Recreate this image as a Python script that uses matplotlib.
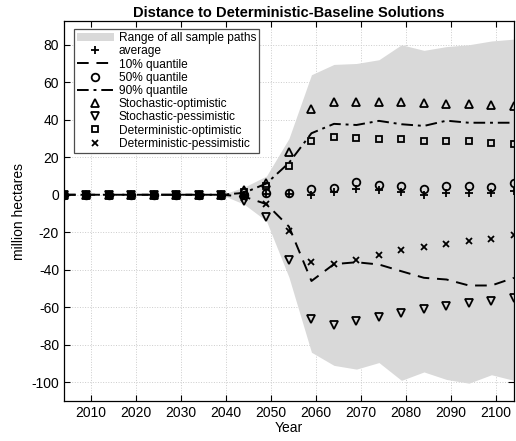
import matplotlib
matplotlib.use("Agg")
import matplotlib.pyplot as plt
from matplotlib.patches import Patch
from matplotlib.lines import Line2D

plt.rcParams['font.family'] = ['Liberation Sans', 'DejaVu Sans']
plt.rcParams['axes.unicode_minus'] = False

years = list(range(2004, 2105, 5))
z = [0] * 8  # 2004..2039 all series sit at zero

band_top = z + [4, 10, 30, 64, 69.5, 70, 72, 80, 77, 79, 80, 82, 83]
band_bot = z + [-5, -14, -44, -84, -91, -93, -89.5, -99, -94.5, -98.5, -100.5, -96, -99]
average = z + [0, 0.5, 0.5, 0, 1.4, 3, 2.5, 1.4, 0, 0.9, 0.9, 0.9, 1.8]
q10 = z + [-1, -5, -17, -46, -37, -36, -37.2, -40.8, -44.3, -45.2, -48.4, -48.4, -44.3]
q50 = z + [0, 1, 1, 3, 3.5, 6.7, 5.3, 4.4, 3, 4.4, 4.8, 4.1, 6.2]
q90 = z + [1, 6, 17, 32.8, 37.8, 37.2, 39.4, 37.6, 36.7, 39.5, 38.4, 38.4, 38.4]
stoch_opt = z + [2.7, 6.5, 22.7, 45.6, 49.3, 49.3, 49.3, 49.3, 48.8, 48.5, 48.2, 47.9, 47.5]
stoch_pes = z + [-3.5, -11.7, -34.6, -66.1, -69.7, -67.4, -65, -62.9, -61.2, -59.4, -57.6, -56.7, -55]
det_opt = z + [1.5, 4.5, 15.4, 28.9, 30.7, 30.1, 29.6, 29.6, 28.9, 28.4, 28.4, 27.5, 27.1]
det_pes = z + [-1.5, -5, -19.5, -36, -36.8, -34.6, -31.9, -29.6, -27.8, -26.2, -24.5, -23.4, -21.6]

fig = plt.figure(figsize=(5.16, 4.41), dpi=100)
ax = fig.add_axes([0.124, 0.0907, 0.872, 0.861])

ax.fill_between(years, band_bot, band_top, color='#d9d9d9', lw=0, zorder=1)
ax.grid(True, linestyle=':', color='#cccccc', lw=0.7, zorder=0)
ax.set_axisbelow(True)

mk = dict(ls='none', color='k', mfc='none', ms=5.5, mew=1.3, zorder=3)
ax.plot(years, average, marker='+', **mk)
ax.plot(years, q10, ls=(0, (6, 4)), color='k', lw=1.4, zorder=2)
ax.plot(years, q50, marker='o', **mk)
ax.plot(years, q90, ls=(0, (6, 2.5, 1.5, 2.5)), color='k', lw=1.4, zorder=2)
ax.plot(years, stoch_opt, marker='^', **mk)
ax.plot(years, stoch_pes, marker='v', **mk)
ax.plot(years, det_opt, marker='s', **dict(mk, ms=4))
ax.plot(years, det_pes, marker='x', **dict(mk, ms=4))

ax.set_xlim(2004, 2104)
ax.set_ylim(-110, 92.5)
ax.set_xticks(range(2010, 2101, 10))
ax.set_yticks(range(-100, 81, 20))
ax.tick_params(direction='in', top=True, right=True, length=4, labelsize=10, width=0.8)
for s in ax.spines.values():
    s.set_linewidth(0.9)

ax.set_xlabel('Year', fontsize=10, labelpad=1)
ax.set_ylabel('million hectares', fontsize=10, labelpad=4)
ax.set_title('Distance to Deterministic-Baseline Solutions', fontsize=10.5, fontweight='bold', pad=3)

handles = [
    Patch(facecolor='#d9d9d9', edgecolor='none'),
    Line2D([], [], marker='+', **mk),
    Line2D([], [], ls=(0, (6, 4)), color='k', lw=1.4),
    Line2D([], [], marker='o', **mk),
    Line2D([], [], ls=(0, (6, 2.5, 1.5, 2.5)), color='k', lw=1.4),
    Line2D([], [], marker='^', **mk),
    Line2D([], [], marker='v', **mk),
    Line2D([], [], marker='s', **dict(mk, ms=4)),
    Line2D([], [], marker='x', **dict(mk, ms=4)),
]
labels = ['Range of all sample paths', 'average', '10% quantile', '50% quantile', '90% quantile',
          'Stochastic-optimistic', 'Stochastic-pessimistic', 'Deterministic-optimistic',
          'Deterministic-pessimistic']
leg = ax.legend(handles, labels, loc='upper left', bbox_to_anchor=(0.022, 0.979), borderaxespad=0,
                fontsize=8.6, fancybox=False, edgecolor='0.3', framealpha=1, handlelength=3.1,
                handletextpad=0.4, labelspacing=0.1, borderpad=0.25, numpoints=1)
leg.get_frame().set_linewidth(0.9)

fig.savefig('out.png', dpi=100)
